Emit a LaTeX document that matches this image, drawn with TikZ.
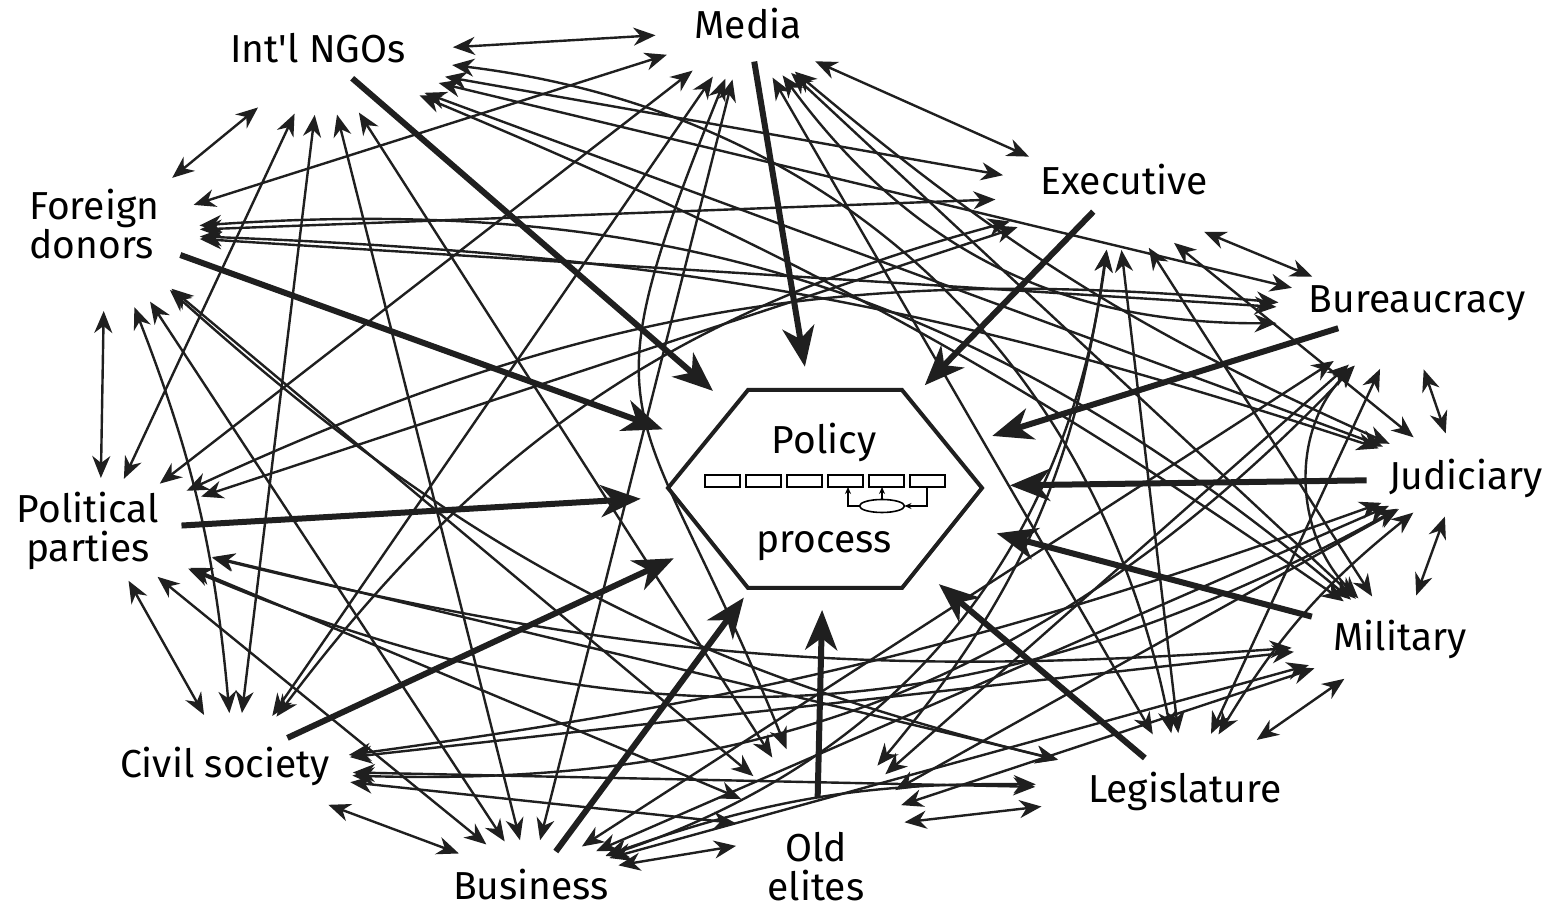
\documentclass[tikz,border=0pt]{standalone}
\usepackage{fontspec}
\setmainfont{Fira Sans}
\usetikzlibrary{arrows.meta, shapes.geometric}

\begin{document}
\begin{tikzpicture}[x=0.5pt, y=0.5pt,
    >={Stealth[length=11pt, width=9pt, inset=3.5pt]},
    actor/.style={font=\fontsize{19.5}{19.5}\selectfont, inner sep=0pt, align=center},
    halo/.style={ellipse, inner sep=0pt, outer sep=0pt},
    link/.style={<->, line width=1.2pt, black!88},
    influence/.style={-{Stealth[length=20pt, width=16pt, inset=6pt]},
      line width=3pt, black!88, shorten <=11pt}]
  \useasboundingbox[fill=white] (0,0) rectangle (1563,914);
  % Acteurs
  \node[actor, anchor=base] (media) at (748,875) {Media};
  \node[actor, anchor=base] (ngo) at (318,851) {Int{\textquotesingle}l NGOs};
  \node[actor, anchor=base] (exec) at (1124,719) {Executive};
  \node[actor, anchor=west, align=left] (donors) at (29,690) {Foreign\\donors};
  \node[actor, anchor=base] (bureau) at (1417,601) {Bureaucracy};
  \node[actor, anchor=base] (judic) at (1466,424) {Judiciary};
  \node[actor] (parties) at (88,383) {Political\\parties};
  \node[actor, anchor=base] (military) at (1400,263) {Military};
  \node[actor, anchor=base] (civil) at (225,136) {Civil society};
  \node[actor, anchor=base] (legis) at (1185,111) {Legislature};
  \node[actor, anchor=base] (business) at (531,14) {Business};
  \node[actor] (elites) at (816,47) {Old\\elites};
  % Zones ou arrivent les fleches fines
  \node[halo, minimum width=90pt, minimum height=50pt] (media_h) at (745,884) {};
  \node[halo, minimum width=132pt, minimum height=60pt] (ngo_h) at (322,859) {};
  \node[halo, minimum width=120pt, minimum height=55pt] (exec_h) at (1115,719) {};
  \node[halo, minimum width=95pt, minimum height=78pt] (donors_h) at (105,681) {};
  \node[halo, minimum width=130pt, minimum height=55pt] (bureau_h) at (1405,599) {};
  \node[halo, minimum width=105pt, minimum height=42pt] (judic_h) at (1460,439) {};
  \node[halo, minimum width=132pt, minimum height=52pt] (parties_h) at (100,384) {};
  \node[halo, minimum width=110pt, minimum height=45pt] (military_h) at (1400,274) {};
  \node[halo, minimum width=118pt, minimum height=57pt] (civil_h) at (235,144) {};
  \node[halo, minimum width=150pt, minimum height=57pt] (legis_h) at (1185,124) {};
  \node[halo, minimum width=95pt, minimum height=40pt] (business_h) at (530,34) {};
  \node[halo, minimum width=85pt, minimum height=90pt] (elites_h) at (820,82) {};
  % Relations entre acteurs (dans les deux sens)
  \path[link] (media_h) edge (ngo_h) edge (exec_h) edge (donors_h)
    edge[bend right=27] (bureau_h) edge[bend right=8] (judic_h)
    edge (parties_h) edge (military_h) edge (civil_h) edge (legis_h)
    edge (business_h) edge[out=248, in=112, looseness=1.5] (elites_h);
  \path[link] (ngo_h) edge (exec_h) edge (donors_h) edge (bureau_h)
    edge (judic_h) edge (parties_h) edge[bend left=6] (military_h)
    edge (civil_h) edge[bend left=36] (legis_h) edge (business_h)
    edge (elites_h);
  \path[link] (exec_h) edge (donors_h) edge (bureau_h) edge (judic_h)
    edge (parties_h) edge (military_h) edge[bend right=19] (civil_h)
    edge (legis_h) edge[bend left=32] (business_h)
    edge[bend left=16] (elites_h);
  \path[link] (donors_h) edge (bureau_h) edge[bend left=8] (judic_h)
    edge (parties_h) edge[bend left=22] (military_h)
    edge[bend left=8] (civil_h) edge[bend right=14] (legis_h)
    edge (business_h) edge (elites_h);
  \path[link] (bureau_h) edge (judic_h) edge[bend right=15] (parties_h)
    edge[out=225, in=135] (military_h) edge[bend left=24] (civil_h)
    edge (legis_h) edge (business_h) edge (elites_h);
  \path[link] (judic_h) edge[bend left=26] (parties_h) edge (military_h)
    edge[bend left=6] (civil_h) edge[bend right=10] (legis_h)
    edge (business_h) edge (elites_h);
  \path[link] (parties_h) edge[bend right=9] (military_h) edge (civil_h)
    edge (legis_h) edge (business_h) edge (elites_h);
  \path[link] (military_h) edge (civil_h) edge (legis_h) edge (business_h)
    edge (elites_h);
  \path[link] (civil_h) edge (legis_h) edge (business_h) edge (elites_h);
  \path[link] (legis_h) edge[bend right=10] (business_h) edge (elites_h);
  \path[link] (business_h) edge (elites_h);
  % Processus politique
  \node[halo, minimum width=185pt, minimum height=122pt] (policy) at (825,426) {};
  \draw[line width=2pt, black!88, fill=white] (668,426) -- (748,524) -- (902,524)
    -- (982,426) -- (902,326) -- (748,326) -- cycle;
  \node[actor, anchor=base] (policy_a) at (824,460) {Policy};
  \node[actor, anchor=base] (policy_b) at (824,361) {process};
  \draw[line width=0.9pt] (705,427) rectangle (740,439) (746,427) rectangle (781,439)
    (787,427) rectangle (822,439) (828,427) rectangle (863,439)
    (869,427) rectangle (904,439) (910,427) rectangle (945,439);
  \draw[line width=0.8pt] (882,408) ellipse [x radius=11.25pt, y radius=3.25pt];
  \draw[-{Stealth[length=3.5pt, width=3pt]}, line width=0.75pt]
    (859.5,408) -- (848,408) -- (848,427);
  \draw[-{Stealth[length=3.5pt, width=3pt]}, line width=0.75pt] (882,414.5) -- (882,427);
  \draw[-{Stealth[length=3.5pt, width=3pt]}, line width=0.75pt]
    (927,427) -- (927,408) -- (904.5,408);
  % Influences sur le processus
  \draw[influence] (media) -- (policy);
  \draw[influence] (ngo) -- (policy);
  \draw[influence] (exec) -- (policy);
  \draw[influence] (donors) -- (policy);
  \draw[influence] (bureau) -- (policy);
  \draw[influence] (judic) -- (policy);
  \draw[influence] (parties) -- (policy);
  \draw[influence] (military) -- (policy);
  \draw[influence] (civil) -- (policy);
  \draw[influence] (legis) -- (policy);
  \draw[influence] (business) -- (policy);
  \draw[influence, shorten <=17pt] (elites) -- (policy);
\end{tikzpicture}
\end{document}
